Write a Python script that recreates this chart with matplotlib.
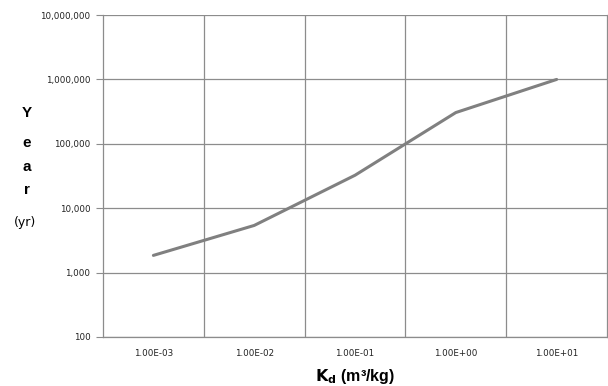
import matplotlib
matplotlib.use("Agg")
import matplotlib.pyplot as plt
from matplotlib.ticker import FuncFormatter, FixedLocator, NullLocator

# Kd categories and travel time (yr)
kd_labels = ["1.00E-03", "1.00E-02", "1.00E-01", "1.00E+00", "1.00E+01"]
years = [1850, 5400, 32500, 306000, 1000000]

grid_col = "#8c8c8c"
line_col = "#808080"

fig = plt.figure(figsize=(6.08, 3.86), dpi=100)
ax = fig.add_axes([0.1694, 0.127, 0.8290, 0.834])

xs = list(range(len(kd_labels)))
ax.plot(xs, years, color=line_col, linewidth=2.2, solid_capstyle="round")

ax.set_yscale("log")
ax.set_ylim(100, 1e7)
ax.set_xlim(-0.5, len(kd_labels) - 0.5)

ax.yaxis.set_major_locator(FixedLocator([1e2, 1e3, 1e4, 1e5, 1e6, 1e7]))
ax.yaxis.set_minor_locator(NullLocator())
ax.yaxis.set_major_formatter(FuncFormatter(lambda v, p: f"{int(round(v)):,}"))

ax.set_xticks(xs)
ax.set_xticklabels(kd_labels)
ax.set_xticks([i + 0.5 for i in xs[:-1]], minor=True)

ax.grid(True, which="major", axis="y", color=grid_col, linewidth=0.9)
ax.grid(True, which="minor", axis="x", color=grid_col, linewidth=0.9)

ax.spines["top"].set_visible(False)
for s in ["left", "bottom", "right"]:
    ax.spines[s].set_color(grid_col)
    ax.spines[s].set_linewidth(0.9)

ax.tick_params(axis="y", which="major", length=5, color=grid_col, labelsize=6.3, pad=4, labelcolor="#222222")
ax.tick_params(axis="x", which="major", length=0, labelsize=6.3, pad=9, labelcolor="#222222")
ax.tick_params(axis="x", which="minor", length=0)

# vertical "Year" label
for ch, y in zip("Year", [113, 143, 167, 190]):
    fig.text(27 / 608, 1 - y / 386, ch, ha="center", va="center",
             fontsize=11, fontweight="bold", family="Liberation Sans")
fig.text(25 / 608, 1 - 222 / 386, "(yr)", ha="center", va="center", fontsize=9,
         family="DejaVu Sans")

fig.text(355 / 608, 1 - 377 / 386, r"$\mathbf{K_d}$" + " (m³/kg)", ha="center", va="center",
         fontsize=11.5, fontweight="bold", family="Liberation Sans")

fig.savefig("out.png", dpi=100)
